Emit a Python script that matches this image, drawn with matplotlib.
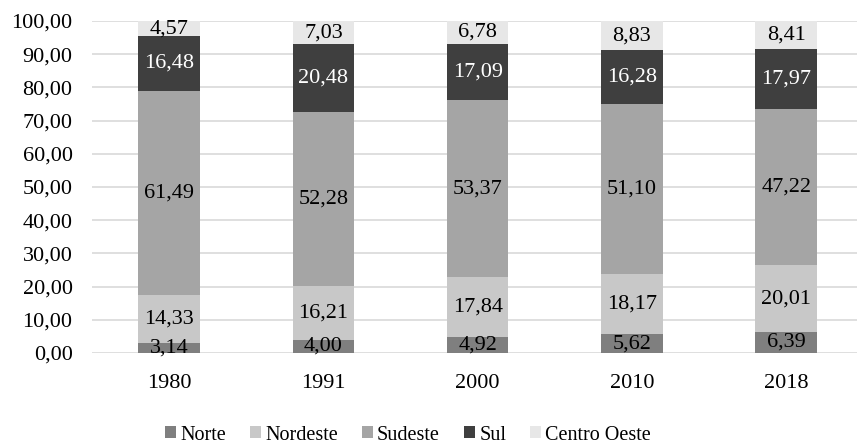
import matplotlib
matplotlib.use("Agg")
import matplotlib.pyplot as plt
import numpy as np

years = ["1980", "1991", "2000", "2010", "2018"]
norte = [3.14, 4.00, 4.92, 5.62, 6.39]
nordeste = [14.33, 16.21, 17.84, 18.17, 20.01]
sudeste = [61.49, 52.28, 53.37, 51.10, 47.22]
sul = [16.48, 20.48, 17.09, 16.28, 17.97]
centro_oeste = [4.57, 7.03, 6.78, 8.83, 8.41]

series = [
    ("Norte", norte, "#7f7f7f", "black"),
    ("Nordeste", nordeste, "#c8c8c8", "black"),
    ("Sudeste", sudeste, "#a5a5a5", "black"),
    ("Sul", sul, "#3f3f3f", "white"),
    ("Centro Oeste", centro_oeste, "#e7e7e7", "black"),
]

plt.rcParams["font.family"] = ["Liberation Serif", "DejaVu Serif"]
fs = 16

fig = plt.figure(figsize=(8.57, 4.43), dpi=100)
ax = fig.add_axes([92 / 857, 90 / 443, 765 / 857, 332 / 443])

x = np.arange(len(years))
bottom = np.zeros(len(years))
handles = []
for name, vals, color, tcolor in series:
    vals = np.array(vals)
    b = ax.bar(x, vals, 0.40, bottom=bottom, color=color, label=name, zorder=3)
    handles.append(b)
    for xi, v, b0 in zip(x, vals, bottom):
        ax.text(xi, b0 + v / 2, f"{v:.2f}".replace(".", ","), ha="center",
                va="center", fontsize=fs, color=tcolor, zorder=4)
    bottom += vals

ax.set_xlim(-0.5, -0.5 + 765 / 154.25)
ax.set_ylim(0, 100)
ax.set_yticks(np.arange(0, 101, 10))
ax.set_yticklabels([f"{v:.2f}".replace(".", ",") for v in np.arange(0, 101, 10)],
                   fontsize=fs)
ax.set_xticks(x)
ax.set_xticklabels(years, fontsize=fs)
ax.tick_params(axis="both", length=0)
ax.tick_params(axis="y", pad=14)
ax.tick_params(axis="x", pad=15)
ax.grid(axis="y", color="#d9d9d9", linewidth=1.2, zorder=0)
for s in ax.spines.values():
    s.set_visible(False)

fig.legend(handles=handles, labels=[s[0] for s in series], loc="center",
           bbox_to_anchor=(408 / 857, 1 - 435 / 443), ncol=5, frameon=False,
           fontsize=14.5, handlelength=0.55, handleheight=0.55, handletextpad=0.2,
           columnspacing=1.2, borderaxespad=0, borderpad=0)

fig.savefig("out.png", dpi=100)
